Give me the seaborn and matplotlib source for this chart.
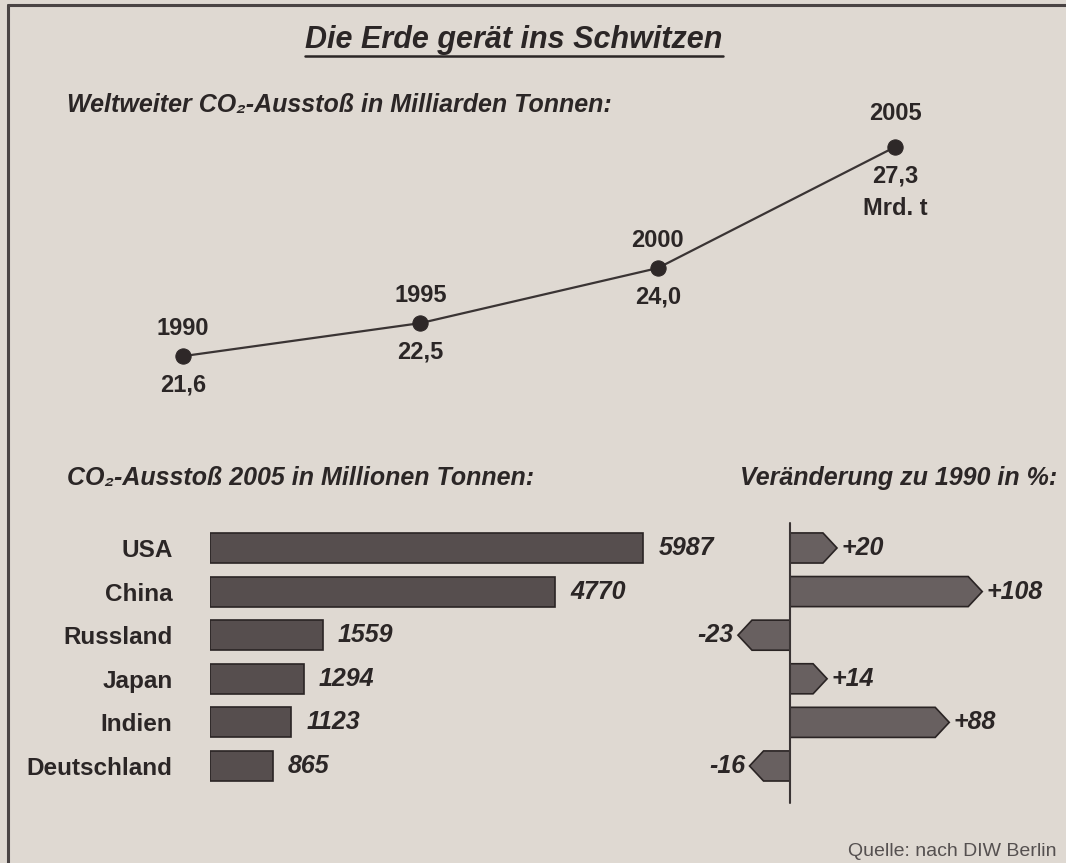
import numpy as np
import pandas as pd
import seaborn as sns
import matplotlib
matplotlib.use("Agg")
import matplotlib.pyplot as plt
from matplotlib.patches import Polygon
from matplotlib.lines import Line2D

# ---------------- data ----------------
years = [1990, 1995, 2000, 2005]
world_co2 = [21.6, 22.5, 24.0, 27.3]
world_labels = ["21,6", "22,5", "24,0", "27,3"]

countries = ["USA", "China", "Russland", "Japan", "Indien", "Deutschland"]
co2_2005 = [5987, 4770, 1559, 1294, 1123, 865]
change_pct = [20, 108, -23, 14, 88, -16]
change_labels = ["+20", "+108", "-23", "+14", "+88", "-16"]

title = "Die Erde gerät ins Schwitzen"
sub1 = "Weltweiter CO\u2082-Ausstoß in Milliarden Tonnen:"
sub2 = "CO\u2082-Ausstoß 2005 in Millionen Tonnen:"
sub3 = "Veränderung zu 1990 in %:"
source = "Quelle: nach DIW Berlin"

# ---------------- style ----------------
sns.set_theme(style="white")
FAM = ["Liberation Sans", "DejaVu Sans"]
plt.rcParams["font.family"] = FAM
TXT = "#2b2626"
BG = "#dfd9d2"

W, H = 1066, 863
fig = plt.figure(figsize=(W / 100, H / 100), dpi=100, facecolor=BG)


def fx(px):
    return px / W


def fy(py):
    return 1 - py / H


# frame (left + top)
fig.add_artist(Line2D([fx(8), fx(8)], [fy(5), fy(870)], color="#4a4444", lw=2.2))
fig.add_artist(Line2D([fx(8), fx(1066)], [fy(5), fy(5)], color="#4a4444", lw=2.2))

# title
t = fig.text(fx(514), fy(40), title, ha="center", va="center", fontsize=22,
             fontweight="bold", fontstyle="italic", color=TXT)
fig.text(fx(67), fy(105), sub1, ha="left", va="center", fontsize=18,
         fontweight="bold", fontstyle="italic", color=TXT, family=FAM)
fig.text(fx(67), fy(478), sub2, ha="left", va="center", fontsize=18,
         fontweight="bold", fontstyle="italic", color=TXT, family=FAM)
fig.text(fx(1057), fy(478), sub3, ha="right", va="center", fontsize=18,
         fontweight="bold", fontstyle="italic", color=TXT)
fig.text(fx(1057), fy(851), source, ha="right", va="center", fontsize=14,
         color="#555050")

# ---------------- line chart ----------------
ax1 = fig.add_axes([fx(100), fy(420), fx(900), 320 / H])
ax1.set_facecolor("none")
df_line = pd.DataFrame({"year": years, "co2": world_co2})
sns.lineplot(data=df_line, x="year", y="co2", ax=ax1, color="#3a3434",
             linewidth=1.6, marker="o", markersize=11,
             markeredgecolor="#2e2828", markerfacecolor="#2e2828")
ax1.set_xlim(1988.25, 2007.21)
ax1.set_ylim(19.86, 28.58)
ax1.axis("off")
for i, (yr, v, lab) in enumerate(zip(years, world_co2, world_labels)):
    up = 24 if i == len(years) - 1 else 20
    ax1.annotate(str(yr), (yr, v), xytext=(0, up), textcoords="offset points",
                 ha="center", va="center", fontsize=17, fontweight="bold", color=TXT)
    ax1.annotate(lab, (yr, v), xytext=(0, -21), textcoords="offset points",
                 ha="center", va="center", fontsize=17, fontweight="bold", color=TXT)
    if i == len(years) - 1:
        ax1.annotate("Mrd. t", (yr, v), xytext=(0, -44), textcoords="offset points",
                     ha="center", va="center", fontsize=17, fontweight="bold", color=TXT)

# ---------------- left bar chart ----------------
ylims = (6.01, -0.642)
BAR_H = 0.69
ax2 = fig.add_axes([fx(210), fy(810), fx(490), 290 / H])
ax2.set_facecolor("none")
df_bar = pd.DataFrame({"country": countries, "co2": co2_2005, "chg": change_pct})
sns.barplot(data=df_bar, x="co2", y="country", orient="h", ax=ax2,
            color="#564e4e", saturation=1, width=BAR_H,
            edgecolor="#2a2424", linewidth=1.2)
ax2.set_xlim(0, 6775)
ax2.set_ylim(*ylims)
for s in ax2.spines.values():
    s.set_visible(False)
ax2.set_xticks([])
ax2.set_xlabel("")
ax2.set_ylabel("")
ax2.tick_params(axis="y", length=0, pad=27)
for lbl in ax2.get_yticklabels():
    lbl.set_fontweight("bold")
    lbl.set_fontsize(17.5)
    lbl.set_color(TXT)
for i, v in enumerate(co2_2005):
    ax2.annotate(f"{v}", (v, i), xytext=(11, 0), textcoords="offset points",
                 ha="left", va="center", fontsize=18, fontweight="bold",
                 fontstyle="italic", color=TXT)

# ---------------- right arrow chart ----------------
ax3 = fig.add_axes([fx(700), fy(810), fx(360), 290 / H])
ax3.set_facecolor("none")
sns.barplot(data=df_bar, x="chg", y="country", orient="h", ax=ax3,
            color="#686060", saturation=1, width=BAR_H, edgecolor="none")
ax3.set_xlim(-54.5, 163.6)
ax3.set_ylim(*ylims)
ax3.axis("off")
HEAD = 8.5
for i, (v, lab) in enumerate(zip(change_pct, change_labels)):
    sgn = 1 if v >= 0 else -1
    y0, y1 = i - BAR_H / 2, i + BAR_H / 2
    pts = [(0, y0), (v, y0), (v + sgn * HEAD, i), (v, y1), (0, y1)]
    ax3.add_patch(Polygon(pts, closed=True, facecolor="#686060",
                          edgecolor="#2a2424", linewidth=1.2, zorder=3))
    tip = v + sgn * HEAD
    ax3.annotate(lab, (tip, i), xytext=(sgn * 3, 0), textcoords="offset points",
                 ha="left" if sgn > 0 else "right", va="center", fontsize=18,
                 fontweight="bold", fontstyle="italic", color=TXT, zorder=4)
ax3.axvline(0, ymin=0.024, ymax=0.99, color="#3a3434", lw=1.5, zorder=5)

# underline of title
fig.canvas.draw()
bb = t.get_window_extent(renderer=fig.canvas.get_renderer())
fig.add_artist(Line2D([bb.x0 / W, bb.x1 / W], [fy(56), fy(56)], color=TXT, lw=1.8))

fig.savefig("out.png", dpi=100, facecolor=BG)
